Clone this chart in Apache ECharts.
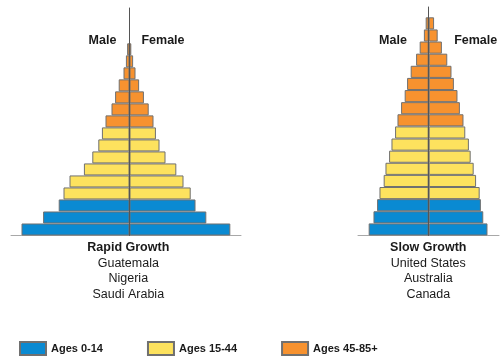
<!DOCTYPE html>
<html>
<head>
<meta charset="utf-8">
<script src="https://cdn.jsdelivr.net/npm/echarts@6/dist/echarts.min.js"></script>
<style>
html,body{margin:0;padding:0;background:#fff;}
#chart{width:500px;height:356px;}
</style>
</head>
<body>
<div id="chart"></div>
<script>
// Age groups, bottom (youngest) to top (oldest)
const ageGroups = ['0-4','5-9','10-14','15-19','20-24','25-29','30-34','35-39','40-44',
                   '45-49','50-54','55-59','60-64','65-69','70-74','75-79','80-84','85+'];
// Share of population (%) per age group
const rapidMale   = [9.0, 7.2, 5.9, 5.5, 5.0, 3.8, 3.1, 2.6, 2.3, 2.0, 1.5, 1.2, 0.9, 0.5, 0.3, 0.2, 0, 0];
const rapidFemale = [8.4, 6.4, 5.5, 5.1, 4.5, 3.9, 3.0, 2.5, 2.2, 2.0, 1.6, 1.2, 0.8, 0.5, 0.3, 0.15, 0, 0];
const slowMale    = [5.0, 4.6, 4.3, 4.1, 3.75, 3.6, 3.3, 3.1, 2.8, 2.6, 2.3, 2.0, 1.8, 1.5, 1.05, 0.75, 0.4, 0.25];
const slowFemale  = [4.9, 4.55, 4.35, 4.25, 3.95, 3.75, 3.5, 3.35, 3.05, 2.9, 2.6, 2.4, 2.1, 1.9, 1.55, 1.1, 0.75, 0.45];
// Broad age bands: name and first index of each band
const bandNames = ['Ages 0-14', 'Ages 15-44', 'Ages 45-85+'];
const bandStart = [0, 3, 9];
const bandColors = ['#0a8ad2', '#fde25e', '#f7922f'];
const pyramidTitles = ['Rapid Growth', 'Slow Growth'];
const pyramidCountries = [['Guatemala', 'Nigeria', 'Saudi Arabia'], ['United States', 'Australia', 'Canada']];

const FONT = '"Liberation Sans", Arial, Helvetica, sans-serif';

function bandOf(i) {
  let b = 0;
  for (let k = 0; k < bandStart.length; k++) if (i >= bandStart[k]) b = k;
  return b;
}

const pyramids = [
  { male: rapidMale, female: rapidFemale },
  { male: slowMale, female: slowFemale }
];

const series = [];
pyramids.forEach((p, g) => {
  bandNames.forEach((name, b) => {
    ['male', 'female'].forEach((sex) => {
      const sign = sex === 'male' ? -1 : 1;
      series.push({
        name: name,
        type: 'bar',
        xAxisIndex: g,
        yAxisIndex: g,
        barGap: '-100%',
        barCategoryGap: '0%',
        itemStyle: { color: bandColors[b], borderColor: '#707070', borderWidth: 1 },
        emphasis: { disabled: true },
        silent: true,
        data: p[sex].map((v, i) => (bandOf(i) === b && v !== 0) ? sign * v : '-')
      });
    });
  });
});

const grids = [
  { left: 11, width: 230, top: 19.3, bottom: 120.5 },
  { left: 358, width: 141, top: 17.3, bottom: 120.5 },
  { left: 11, width: 230, top: 8, bottom: 120.5 },
  { left: 358, width: 141, top: 7, bottom: 120.5 }
];
const xRanges = [[-9.875, 9.29], [-5.89, 5.86], [-9.875, 9.29], [-5.89, 5.86]];

const xAxes = grids.map((gr, i) => ({
  type: 'value', gridIndex: i, min: xRanges[i][0], max: xRanges[i][1],
  axisLine: { show: i < 2, lineStyle: { color: '#a8a8a8', width: 1 } },
  axisTick: { show: false }, axisLabel: { show: false }, splitLine: { show: false }
}));
const yAxes = [
  { type: 'category', gridIndex: 0, data: ageGroups, axisLine: { show: false }, axisTick: { show: false }, axisLabel: { show: false }, splitLine: { show: false } },
  { type: 'category', gridIndex: 1, data: ageGroups, axisLine: { show: false }, axisTick: { show: false }, axisLabel: { show: false }, splitLine: { show: false } },
  { type: 'value', gridIndex: 2, min: 0, max: 1, z: 5, axisLine: { show: true, onZero: true, lineStyle: { color: '#555', width: 1 } }, axisTick: { show: false }, axisLabel: { show: false }, splitLine: { show: false } },
  { type: 'value', gridIndex: 3, min: 0, max: 1, z: 5, axisLine: { show: true, onZero: true, lineStyle: { color: '#555', width: 1 } }, axisTick: { show: false }, axisLabel: { show: false }, splitLine: { show: false } }
];

function txt(x, y, text, size, bold) {
  return {
    type: 'text', x: x, y: y, silent: true, z: 10,
    style: { text: text, fill: '#1a1a1a', font: (bold ? 'bold ' : '') + size + 'px ' + FONT,
             textAlign: 'center', textVerticalAlign: 'middle' }
  };
}

const centers = [128.3, 428.3];
const graphics = [
  txt(102.5, 41, 'Male', 12.5, true),
  txt(163, 41, 'Female', 12.5, true),
  txt(393, 41, 'Male', 12.5, true),
  txt(475.7, 41, 'Female', 12.5, true)
];
pyramidTitles.forEach((t, g) => {
  graphics.push(txt(centers[g], 247.3, t, 12.5, true));
  pyramidCountries[g].forEach((c, j) => {
    graphics.push(txt(centers[g], 263.3 + j * 15.6, c, 12.5, false));
  });
});

const chart = echarts.init(document.getElementById('chart'), null, { renderer: 'canvas' });
chart.setOption({
  animation: false,
  backgroundColor: '#ffffff',
  grid: grids,
  xAxis: xAxes,
  yAxis: yAxes,
  legend: {
    data: bandNames,
    left: 19, top: 341, padding: 0,
    icon: 'rect', itemWidth: 26, itemHeight: 13, itemGap: 44,
    selectedMode: false,
    textStyle: { fontFamily: FONT, fontWeight: 'bold', fontSize: 11, color: '#1a1a1a' }
  },
  graphic: graphics,
  series: series
});
</script>
</body>
</html>
